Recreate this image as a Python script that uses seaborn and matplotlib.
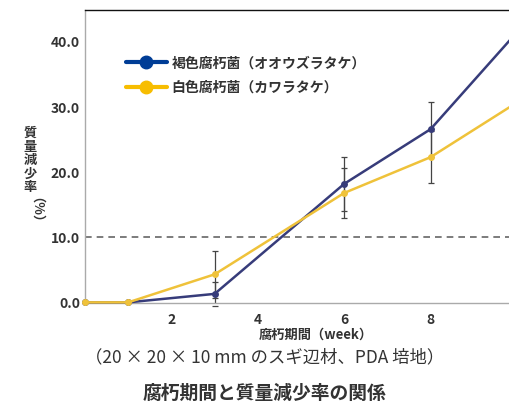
"""Mass loss vs decay period chart."""

import matplotlib.pyplot as plt
import pandas as pd
import seaborn as sns

# Data.
weeks = [0, 1, 3, 6, 8, 10]
brown_rot = [0.0, 0.0, 1.3, 18.2, 26.6, 41.5]
white_rot = [0.0, 0.0, 4.3, 16.8, 22.3, 30.7]
err_weeks = [3, 6, 8]
brown_err = [1.9, 4.1, 4.2]
white_err = [3.6, 3.8, 4.0]
brown_mean_at_err = [1.3, 18.2, 26.6]
white_mean_at_err = [4.3, 16.8, 22.3]

label_brown = "褐色腐朽菌（オオウズラタケ）"
label_white = "白色腐朽菌（カワラタケ）"

sns.set_theme(style="white")
plt.rcParams["font.family"] = ["Noto Sans CJK JP", "DejaVu Sans"]

df = pd.DataFrame({
    "week": weeks + weeks,
    "loss": brown_rot + white_rot,
    "fungus": [label_brown] * len(weeks) + [label_white] * len(weeks),
})

fig = plt.figure(figsize=(5.09, 4.07), dpi=100)
ax = fig.add_axes([85 / 509, (407 - 303) / 407, (517 - 85) / 509, (303 - 10) / 407])

# Reference line at 10 %.
ax.axhline(10, color="#666666", linestyle=(0, (4, 3)), linewidth=1.2, zorder=1)

# Error bars (single gray vertical lines).
ax.errorbar(err_weeks, brown_mean_at_err, yerr=brown_err, fmt="none",
            ecolor="#444444", elinewidth=0.9, capsize=2.5, capthick=0.9, zorder=2)
ax.errorbar(err_weeks, white_mean_at_err, yerr=white_err, fmt="none",
            ecolor="#444444", elinewidth=0.9, capsize=2.5, capthick=0.9, zorder=2)

sns.lineplot(
    data=df, x="week", y="loss", hue="fungus",
    palette={label_brown: "#373c7a", label_white: "#efc23a"},
    marker="o", markersize=5, markeredgewidth=0, linewidth=1.8,
    legend=False, ax=ax, zorder=3,
)
for line in ax.lines:
    line.set_clip_on(False)

ax.set_xlim(0, 10)
ax.set_ylim(-0.1, 44.9)
ax.set_xticks([2, 4, 6, 8, 10])
ax.set_xticklabels(["2", "4", "6", "8", "10"])
ax.set_yticks([0, 10, 20, 30, 40])
ax.set_yticklabels([f"{v:.1f}" for v in [0, 10, 20, 30, 40]])
ax.tick_params(axis="both", direction="in", length=3, width=0.8, color="#aaaaaa",
               labelsize=10, labelcolor="#333333")
ax.tick_params(axis="x", pad=7)
for lbl in ax.get_xticklabels() + ax.get_yticklabels():
    lbl.set_fontweight("bold")

for side in ["left", "bottom"]:
    ax.spines[side].set_color("#aaaaaa")
    ax.spines[side].set_linewidth(1.0)
ax.spines["top"].set_color("#111111")
ax.spines["top"].set_linewidth(1.0)
ax.spines["right"].set_visible(False)
ax.set_xlabel("")
ax.set_ylabel("")

# Legend with large markers.
handles = [
    plt.Line2D([], [], color="#003d96", linewidth=3, marker="o", markersize=9),
    plt.Line2D([], [], color="#f7bd00", linewidth=3, marker="o", markersize=9),
]
leg = ax.legend(handles, [label_brown, label_white], loc="upper left",
                bbox_to_anchor=(0.065, 0.885), frameon=False, fontsize=10,
                handlelength=3.0, handletextpad=0.3, labelspacing=0.75)
for t in leg.get_texts():
    t.set_color("#333333")
    t.set_fontweight("bold")

# Vertical y label.
for i, ch in enumerate("質量減少率"):
    fig.text(30 / 509, 1 - (133 + i * 13.5) / 407, ch, ha="center", va="center",
             fontsize=9.5, fontweight="bold", color="#333333")
fig.text(30 / 509, 1 - 217 / 407, "（%）", rotation=-90, ha="center", va="center",
         fontsize=9.5, fontweight="bold", color="#333333")

fig.text(316 / 509, 1 - 335 / 407, "腐朽期間（week）", ha="center", va="center",
         fontsize=9.5, fontweight="bold", color="#333333")
fig.text(265 / 509, 1 - 357 / 407, "（20 × 20 × 10 mm のスギ辺材、PDA 培地）",
         ha="center", va="center", fontsize=12.5, color="#333333")
fig.text(264 / 509, 1 - 393 / 407, "腐朽期間と質量減少率の関係", ha="center",
         va="center", fontsize=13.5, fontweight="bold", color="#333333")

fig.savefig("out.png", dpi=100)
